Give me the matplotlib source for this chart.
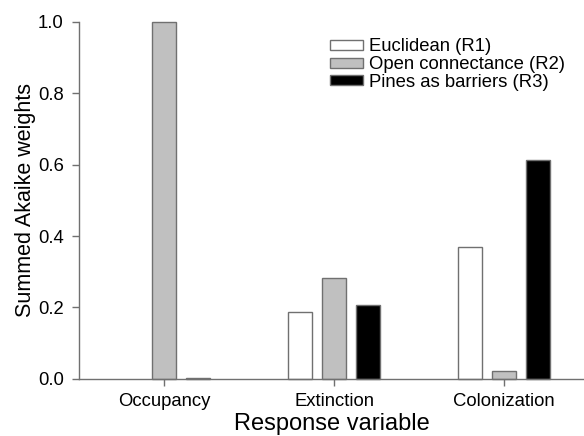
import numpy as np
import matplotlib
matplotlib.use('Agg')
import matplotlib.pyplot as plt

plt.rcParams['font.family'] = ['Liberation Sans', 'DejaVu Sans']

categories = ['Occupancy', 'Extinction', 'Colonization']
series_names = ['Euclidean (R1)', 'Open connectance (R2)', 'Pines as barriers (R3)']
r1_values = [0.0, 0.186, 0.370]
r2_values = [1.0, 0.283, 0.022]
r3_values = [0.003, 0.207, 0.613]
yticks = [0.0, 0.2, 0.4, 0.6, 0.8, 1.0]

fills = ['white', '#c0c0c0', 'black']
edge = '#707070'

fig = plt.figure(figsize=(5.84, 4.36), dpi=100)
ax = fig.add_axes([79 / 584, (436 - 378.7) / 436, 1 - 79 / 584, (378.7 - 22) / 436])

x = np.arange(len(categories))
width = 0.141
offsets = [-0.2, 0.0, 0.2]
for vals, off, fc, name in zip([r1_values, r2_values, r3_values], offsets, fills, series_names):
    lw = [1.0 if v > 0 else 0 for v in vals]
    ax.bar(x + off, vals, width, color=fc, edgecolor=edge, linewidth=lw, label=name, clip_on=False)

ax.set_xlim(-0.5, 2.47)
ax.set_ylim(0, 1.0)
ax.set_xticks(x)
ax.set_xticklabels(categories, fontsize=13.3)
ax.set_yticks(yticks)
ax.set_yticklabels([f'{v:.1f}' for v in yticks], fontsize=13.3)
ax.set_xlabel('Response variable', fontsize=17, labelpad=2.5)
ax.set_ylabel('Summed Akaike weights', fontsize=15.5, labelpad=1)

for side in ['top', 'right']:
    ax.spines[side].set_visible(False)
for side in ['left', 'bottom']:
    ax.spines[side].set_color(edge)
    ax.spines[side].set_linewidth(1.0)
ax.tick_params(direction='out', length=5, width=1.0, color=edge)
ax.tick_params(axis='y', pad=6)
ax.tick_params(axis='x', pad=5)

leg = ax.legend(loc='upper left', bbox_to_anchor=(0.497, 0.954), frameon=False, fontsize=13.3,
                handlelength=1.8, handleheight=0.45, labelspacing=0.04, handletextpad=0.3,
                borderaxespad=0, borderpad=0)
for h in leg.legend_handles:
    h.set_linewidth(1.0)

fig.savefig('out.png', dpi=100)
